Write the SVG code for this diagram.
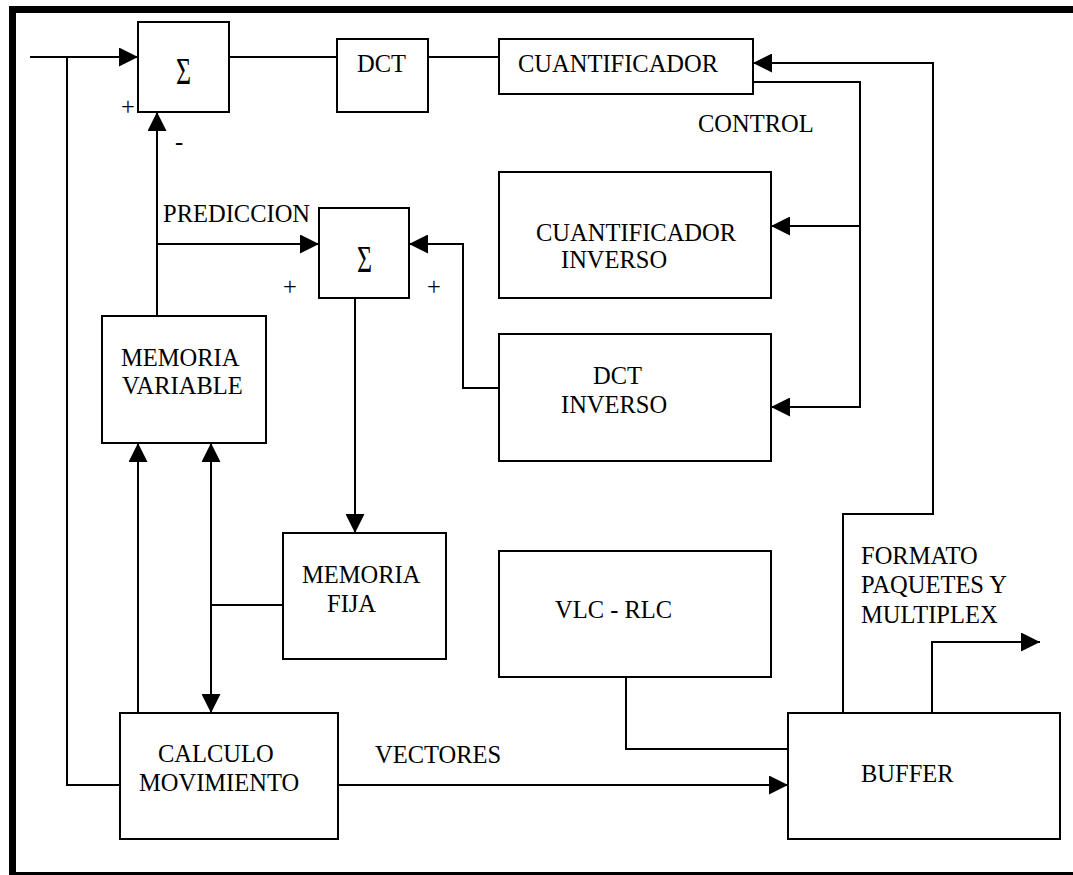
<svg xmlns="http://www.w3.org/2000/svg" width="1073" height="875" viewBox="0 0 1073 875">
<style>
.box{fill:#fff;stroke:#000;stroke-width:2}
.ln{fill:none;stroke:#000;stroke-width:2}
.ar{marker-end:url(#ah)}
text{font-family:"Liberation Serif","Times New Roman",serif;font-size:24.5px;fill:#000}
.sg{font-size:37px}
</style>
<defs>
<marker id="ah" viewBox="0 0 19 19" refX="19" refY="9.5" markerWidth="19" markerHeight="19" orient="auto-start-reverse" markerUnits="userSpaceOnUse">
<path d="M0,0 L19,9.5 L0,19 z" fill="#000"/>
</marker>
</defs>
<rect x="0" y="0" width="1073" height="875" fill="#fff"/>
<g id="frame">
<rect x="9" y="6" width="1064" height="7" fill="#000"/>
<rect x="9" y="6" width="7" height="869" fill="#000"/>
<rect x="9" y="872" width="1064" height="3" fill="#000"/>
</g>
<g id="connectors">
<path class="ln ar" d="M30,57 H138"/>
<path class="ln" d="M67,57 V785 H120"/>
<path class="ln ar" d="M157,316 V112"/>
<path class="ln ar" d="M157,244 H319"/>
<path class="ln" d="M229,57 H337"/>
<path class="ln" d="M428,57 H499"/>
<path class="ln ar" d="M843,713 V514 H933 V63 H753"/>
<path class="ln ar" d="M753,82 H860 V407 H771"/>
<path class="ln ar" d="M860,226 H771"/>
<path class="ln ar" d="M499,388 H463 V244 H409"/>
<path class="ln ar" d="M355,298 V533"/>
<path class="ln ar" d="M138,713 V443"/>
<path class="ln ar" d="M211,443 V713" marker-start="url(#ah)"/>
<path class="ln" d="M283,605 H211"/>
<path class="ln ar" d="M338,785 H788"/>
<path class="ln" d="M626,677 V749 H788"/>
<path class="ln ar" d="M932,713 V642 H1040"/>
</g>
<g id="sum1">
<rect class="box" x="138" y="22" width="91" height="90"/>
<text class="sg" transform="translate(176,84) scale(0.7,1)">Σ</text>
<text x="128" y="115" text-anchor="middle">+</text>
<text x="179" y="150" text-anchor="middle">-</text>
</g>
<g id="dct">
<rect class="box" x="337" y="39" width="91" height="73"/>
<text x="357" y="72">DCT</text>
</g>
<g id="cuantificador">
<rect class="box" x="499" y="39" width="254" height="55"/>
<text x="518" y="72">CUANTIFICADOR</text>
</g>
<g id="control-label"><text x="698" y="132">CONTROL</text></g>
<g id="cuant-inverso">
<rect class="box" x="499" y="172" width="272" height="126"/>
<text x="536" y="241">CUANTIFICADOR</text>
<text x="561" y="268">INVERSO</text>
</g>
<g id="dct-inverso">
<rect class="box" x="499" y="334" width="272" height="127"/>
<text x="593" y="384">DCT</text>
<text x="561" y="413">INVERSO</text>
</g>
<g id="sum2">
<rect class="box" x="319" y="208" width="90" height="90"/>
<text class="sg" transform="translate(357,272) scale(0.7,1)">Σ</text>
<text x="290" y="295" text-anchor="middle">+</text>
<text x="434" y="295" text-anchor="middle">+</text>
</g>
<g id="prediccion-label"><text x="163" y="222">PREDICCION</text></g>
<g id="memoria-variable">
<rect class="box" x="102" y="316" width="164" height="127"/>
<text x="121" y="366">MEMORIA</text>
<text x="122" y="394">VARIABLE</text>
</g>
<g id="memoria-fija">
<rect class="box" x="283" y="533" width="163" height="126"/>
<text x="302" y="583">MEMORIA</text>
<text x="327" y="612">FIJA</text>
</g>
<g id="vlc-rlc">
<rect class="box" x="499" y="551" width="272" height="126"/>
<text x="555" y="618">VLC - RLC</text>
</g>
<g id="calculo">
<rect class="box" x="120" y="713" width="218" height="126"/>
<text x="158" y="762">CALCULO</text>
<text x="139" y="791">MOVIMIENTO</text>
</g>
<g id="vectores-label"><text x="375" y="763">VECTORES</text></g>
<g id="buffer">
<rect class="box" x="788" y="713" width="272" height="126"/>
<text x="861" y="782">BUFFER</text>
</g>
<g id="formato-label">
<text x="861" y="564">FORMATO</text>
<text x="861" y="593">PAQUETES Y</text>
<text x="861" y="623">MULTIPLEX</text>
</g>
</svg>
